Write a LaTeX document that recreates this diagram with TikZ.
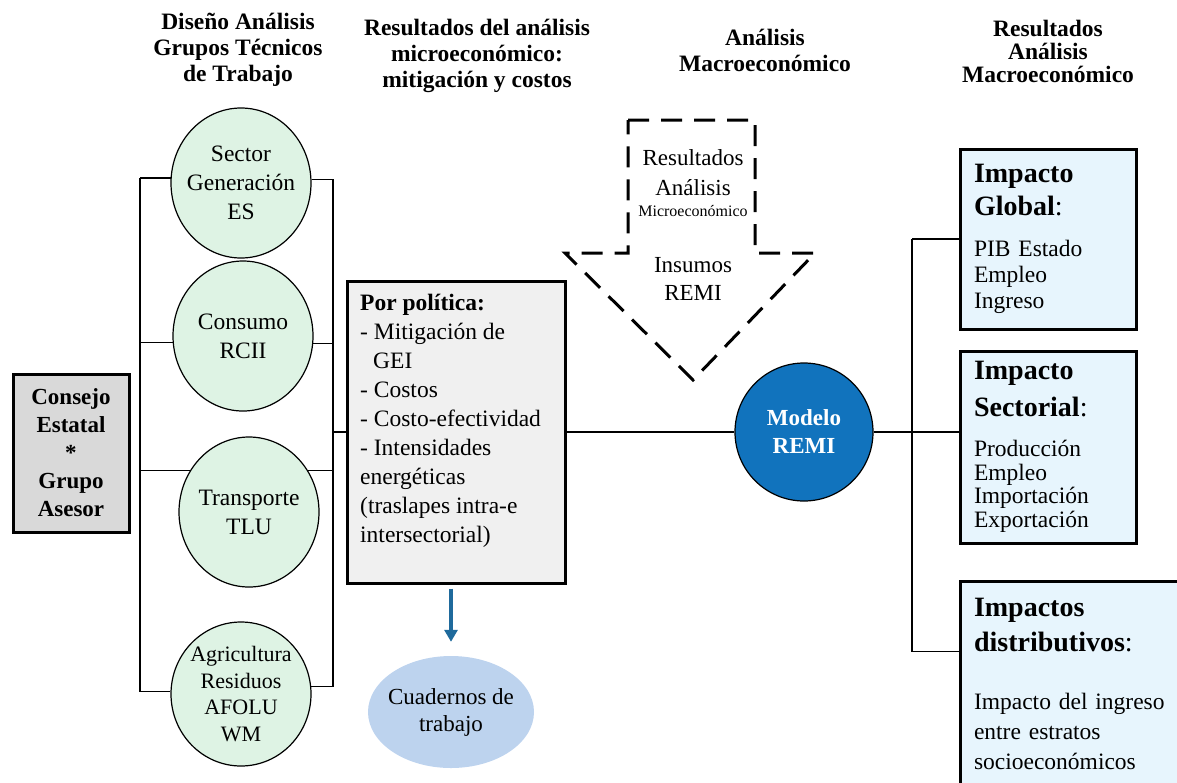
\documentclass[tikz,border=0pt]{standalone}
\usepackage{fontspec}
\setmainfont{Liberation Serif}
\usepackage{tikz}
\usetikzlibrary{shapes.geometric,arrows.meta}

\definecolor{consejogris}{RGB}{217,217,217}
\definecolor{sectorverde}{RGB}{222,243,228}
\definecolor{politicagris}{RGB}{240,240,240}
\definecolor{remiazul}{RGB}{17,115,189}
\definecolor{impactoazul}{RGB}{231,245,253}
\definecolor{cuadernoazul}{RGB}{189,211,238}
\definecolor{flechaazul}{RGB}{31,106,156}

\newcommand{\tam}[2]{\fontsize{#1}{#2}\selectfont}

\begin{document}
\begin{tikzpicture}[x=1pt,y=-1pt,
  linea/.style={line width=1.2pt},
  titulo/.style={align=center,font=\bfseries\tam{23.5}{26}},
  sector/.style={ellipse,draw,line width=1.2pt,fill=sectorverde,minimum width=140pt,minimum height=150pt,inner sep=-14pt,align=center,font=\tam{23.5}{29}},
  caja/.style={rectangle,draw,line width=3pt},
  impacto/.style={caja,fill=impactoazul,anchor=north west,align=left,text width=148pt,inner xsep=14pt}]

\useasboundingbox (0,0) rectangle (1177,782);
\clip (0,0) rectangle (1177,782);

% titulos
\node[titulo] (t1) at (238,50) {Diseño Análisis\\Grupos Técnicos\\de Trabajo};
\node[titulo] (t2) at (477,56) {Resultados del análisis\\microeconómico:\\mitigación y costos};
\node[titulo] (t3) at (765,50) {Análisis\\Macroeconómico};
\node[titulo,font=\bfseries\tam{23.5}{23}] (t4) at (1048,51) {Resultados\\Análisis\\Macroeconómico};

% grupos tecnicos
\node[caja,fill=consejogris,minimum width=116pt,minimum height=158pt,align=center,font=\bfseries\tam{23}{28}] (consejo) at (71,453) {Consejo\\Estatal\\*\\Grupo\\Asesor};

\node[sector] (ses) at (241,183) {Sector\\Generación\\ES};
\node[sector] (rcii) at (243,336) {Consumo\\RCII};
\node[sector] (tlu) at (249,512) {Transporte\\TLU};
\node[sector,minimum height=144pt,font=\tam{22}{26.5}] (afolu) at (241,694) {Agricultura\\Residuos\\AFOLU\\WM};

\coordinate (izq) at (140,0);
\coordinate (der) at (333,0);
\draw[linea] (izq |- ses.176) -- (izq |- afolu.178);
\draw[linea] (der |- ses.3) -- (der |- afolu.6);
\foreach \n/\a in {ses/176,rcii/185,tlu/145,afolu/178}
  \draw[linea] (izq |- \n.\a) -- (\n.\a);
\foreach \n/\a in {ses/3,rcii/354,tlu/35,afolu/6}
  \draw[linea] (\n.\a) -- (der |- \n.\a);

% analisis microeconomico
\node[caja,fill=politicagris,minimum width=218pt,minimum height=302pt] (pol) at (456.5,432) {};
\node[anchor=north west,align=left,inner sep=0pt,font=\tam{23.5}{29}] (poltxt) at ([xshift=14pt,yshift=-14pt]pol.north west)
  {\textbf{Por política:}\\- Mitigación de\\\hspace*{13pt}GEI\\- Costos\\- Costo-efectividad\\- Intensidades\\energéticas\\(traslapes intra-e\\intersectorial)};
\draw[linea] (der |- pol.west) -- (pol.west);

\node[ellipse,fill=cuadernoazul,minimum width=166pt,minimum height=112pt,inner sep=-14pt,align=center,font=\tam{23}{27}] (cuad) at (451,712) {Cuadernos de\\trabajo};
\draw[line width=3.5pt,flechaazul,-{Triangle[width=13pt,length=12pt]}] ([yshift=-4pt]pol.south -| cuad.north) -- ([yshift=14pt]cuad.north);

% flecha de insumos
\draw[line width=3pt,dash pattern=on 21pt off 12pt] (628,120) -- (755,120) -- (755,253) -- (815,253) -- (693,380) -- (565,253) -- (628,253) -- cycle;
\node[align=center,font=\tam{23}{30}] (resmic) at (693,173) {Resultados\\Análisis};
\node[font=\tam{16}{16}] (micro) at (693,211) {Microeconómico};
\node[align=center,font=\tam{23}{28}] (insumos) at (693,279) {Insumos\\REMI};

% modelo REMI
\node[circle,draw,line width=1.2pt,fill=remiazul,text=white,minimum size=138pt,inner sep=0pt,align=center,font=\bfseries\tam{23}{28}] (remi) at (804,432) {Modelo\\REMI};
\draw[linea] (pol.east) -- (remi.west);

% resultados macroeconomicos
\node[impacto,minimum height=180pt,font=\tam{23.5}{26}] (glob) at (958.5,147.5)
  {{\tam{28}{33}\textbf{Impacto\\[7pt]Global}:}\\[15pt]PIB Estado\\Empleo\\Ingreso};
\node[impacto,minimum height=192pt,font=\tam{23.5}{23.5}] (sect) at (958.5,349.5)
  {{\tam{28}{33}\textbf{Impacto\\[10.5pt]Sectorial}:}\\[16.5pt]Producción\\Empleo\\Importación\\Exportación};
\node[impacto,text width=230pt,inner ysep=17pt,font=\tam{23.5}{30}] (dist) at (958.5,579.5)
  {{\tam{28}{33}\textbf{Impactos\\[5pt]distributivos}:}\\[28pt]Impacto del ingreso\\entre estratos\\socioeconómicos};

\coordinate (dcha) at (912,0);
\coordinate (distr) at ([yshift=-72pt]dist.north west);
\draw[linea] (remi.east) -- (dcha |- remi.east);
\draw[linea] (dcha |- glob.west) -- (dcha |- distr);
\draw[linea] (dcha |- glob.west) -- (glob.west);
\draw[linea] (dcha |- remi.east) -- (sect.west |- remi.east);
\draw[linea] (dcha |- distr) -- (distr);

\end{tikzpicture}
\end{document}
